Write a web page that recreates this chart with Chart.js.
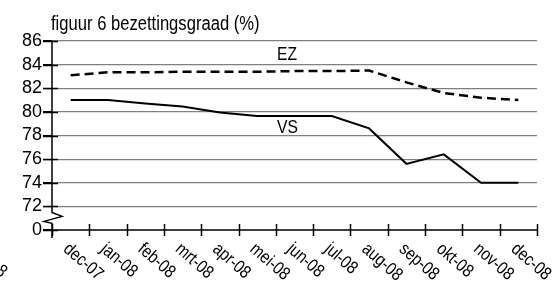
<!DOCTYPE html>
<html>
<head>
<meta charset="utf-8">
<script src="https://cdn.jsdelivr.net/npm/chart.js@4"></script>
<style>
  html, body { margin: 0; padding: 0; background: #fff; }
  #wrap { width: 555px; height: 286px; }
</style>
</head>
<body>
<div id="wrap"><canvas id="chart"></canvas></div>
<script>
/** Data */
const months = ['dec-07', 'jan-08', 'feb-08', 'mrt-08', 'apr-08', 'mei-08', 'jun-08',
                'jul-08', 'aug-08', 'sep-08', 'okt-08', 'nov-08', 'dec-08'];
const ez = [83.1, 83.35, 83.35, 83.4, 83.4, 83.4, 83.45, 83.45, 83.5, 82.5, 81.6, 81.2, 81.0];
const vs = [81.0, 81.0, 80.7, 80.45, 79.95, 79.65, 79.65, 79.65, 78.6, 75.6, 76.4, 74.0, 74.0];
const title = 'figuur 6 bezettingsgraad (%)';

const FONT = '"Liberation Sans", Arial, sans-serif';
Chart.defaults.font.family = FONT;
Chart.defaults.color = '#000';

// narrow text: the original uses a condensed face, so squeeze horizontally
function narrowText(ctx, text, x, y, sx, angle) {
    ctx.save();
    ctx.translate(x, y);
    if (angle) ctx.rotate(angle * Math.PI / 180);
    ctx.scale(sx, 1);
    ctx.fillText(text, 0, 0);
    ctx.restore();
}

/** Extra drawing: axes with break, crossing ticks, rotated labels, texts */
const decor = {
    id: 'decor',
    afterDraw(chart) {
        const ctx = chart.ctx;
        const xs = chart.scales.x, ys = chart.scales.y;
        const left = xs.left, right = xs.right, bottom = ys.bottom, top = ys.top;
        ctx.save();
        ctx.strokeStyle = '#000';
        ctx.lineWidth = 1.5;

        // x axis with ticks through it
        ctx.beginPath();
        ctx.moveTo(left, bottom);
        ctx.lineTo(right, bottom);
        const step = (right - left) / months.length;
        for (let i = 0; i <= months.length; i++) {
            const x = Math.round(left + i * step) + 0.5;
            ctx.moveTo(x, bottom - 6);
            ctx.lineTo(x, bottom + 6);
        }
        // y ticks also cross the axis
        ys.ticks.forEach((t) => {
            const y = Math.round(ys.getPixelForValue(t.value)) + 0.5;
            ctx.moveTo(left - 9, y);
            ctx.lineTo(left + 6, y);
        });
        ctx.stroke();

        // y axis with break
        const y72 = ys.getPixelForValue(72);
        ctx.beginPath();
        ctx.moveTo(left, top);
        ctx.lineTo(left, y72 + 6);
        ctx.lineTo(left + 10, y72 + 10);
        ctx.lineTo(left - 8, y72 + 15);
        ctx.lineTo(left, y72 + 17);
        ctx.lineTo(left, bottom + 8);
        ctx.stroke();

        // rotated month labels
        ctx.fillStyle = '#000';
        ctx.font = '18px ' + FONT;
        ctx.textAlign = 'left';
        ctx.textBaseline = 'top';
        months.forEach((m, i) => {
            narrowText(ctx, m, xs.getPixelForValue(i) + 1, bottom + 10, 0.84, 41);
        });
        narrowText(ctx, '8', 4, 262, 0.84, 41);

        // title and series names
        ctx.textBaseline = 'alphabetic';
        ctx.font = '20px ' + FONT;
        narrowText(ctx, title, 51, 30, 0.83);
        ctx.font = '18px ' + FONT;
        narrowText(ctx, 'EZ', 277, 60, 0.87);
        narrowText(ctx, 'VS', 277, 133, 0.87);
        ctx.restore();
    }
};

new Chart(document.getElementById('chart'), {
    type: 'line',
    data: {
        labels: months,
        datasets: [{
            label: 'EZ',
            data: ez,
            borderColor: '#000',
            borderWidth: 2.5,
            borderDash: [9, 5],
            pointRadius: 0,
            fill: false,
            tension: 0
        }, {
            label: 'VS',
            data: vs,
            borderColor: '#000',
            borderWidth: 2,
            pointRadius: 0,
            fill: false,
            tension: 0
        }]
    },
    options: {
        responsive: true,
        maintainAspectRatio: false,
        animation: false,
        layout: { padding: { top: 41, right: 18, left: 0, bottom: 0 } },
        plugins: {
            legend: { display: false },
            title: { display: false },
            tooltip: { enabled: false }
        },
        scales: {
            x: {
                offset: true,
                grid: { display: false },
                border: { display: false },
                ticks: { display: false },
                afterFit: (s) => { s.height = 56; }
            },
            y: {
                min: 70,
                max: 86,
                ticks: {
                    stepSize: 2,
                    autoSkip: false,
                    padding: 1,
                    font: { size: 18 },
                    callback: (v) => v === 70 ? '0' : v
                },
                grid: {
                    color: (c) => c.tick && c.tick.value === 70 ? 'rgba(0,0,0,0)' : '#7f7f7f',
                    tickColor: '#000',
                    tickLength: 9,
                    lineWidth: 1.2
                },
                border: { display: false },
                afterFit: (s) => { s.width = 52; }
            }
        }
    },
    plugins: [decor]
});
</script>
</body>
</html>
